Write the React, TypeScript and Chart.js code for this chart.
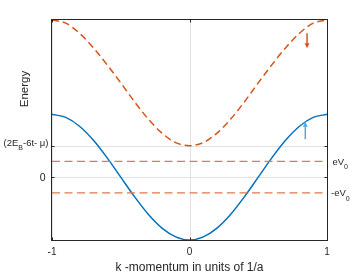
import React, { useEffect, useRef } from "react";
import { Chart, registerables } from "chart.js";

Chart.register(...registerables);

// momentum k (units of 1/a)
const kValues = [-1, -0.9, -0.8, -0.7, -0.6, -0.5, -0.4, -0.3, -0.2, -0.1, 0, 0.1, 0.2, 0.3, 0.4, 0.5, 0.6, 0.7, 0.8, 0.9, 1];
// lower band (solid blue)
const lowerBand = [2.0, 1.9, 1.62, 1.18, 0.62, 0.0, -0.62, -1.18, -1.62, -1.9, -2.0, -1.9, -1.62, -1.18, -0.62, 0.0, 0.62, 1.18, 1.62, 1.9, 2.0];
// upper band (dashed orange)
const upperBand = [5.0, 4.9, 4.58, 4.12, 3.58, 3.0, 2.4, 1.85, 1.4, 1.1, 1.0, 1.1, 1.4, 1.85, 2.4, 3.0, 3.58, 4.12, 4.58, 4.9, 5.0];
// potential levels +eV0 / -eV0
const potentialLevels = [0.5, -0.5];
const potentialLabels = ["eV", "-eV"];

const xTicks = [-1, 0, 1];
const xTickLabels = ["-1", "0", "1"];
const yTicks = [1, 0];

// arrows: k position, start value, end value
const arrowK = [0.842, 0.855];
const arrowFrom = [1.21, 4.58];
const arrowTo = [1.76, 4.1];
const arrowColors = ["#5AA8E0", "#D95319"];

const BLUE = "#0072BD";
const ORANGE = "#D95319";
const FONT = "'Liberation Sans', Arial, Helvetica, sans-serif";

type Part = { t: string; sub?: boolean };

function richWidth(ctx: CanvasRenderingContext2D, parts: Part[], size: number, subSize: number) {
  let w = 0;
  for (const p of parts) {
    ctx.font = `${p.sub ? subSize : size}px ${FONT}`;
    w += ctx.measureText(p.t).width;
  }
  return w;
}

function drawRich(ctx: CanvasRenderingContext2D, parts: Part[], x: number, y: number, size: number, subSize: number, align: "left" | "right") {
  const w = richWidth(ctx, parts, size, subSize);
  let cx = align === "right" ? x - w : x;
  ctx.textAlign = "left";
  ctx.textBaseline = "middle";
  for (const p of parts) {
    ctx.font = `${p.sub ? subSize : size}px ${FONT}`;
    ctx.fillText(p.t, cx, p.sub ? y + 5 : y);
    cx += ctx.measureText(p.t).width;
  }
}

const decorPlugin = {
  id: "decor",
  beforeDatasetsDraw(chart: any) {
    const { ctx, chartArea: a, scales } = chart;
    const xs = scales.x;
    const ys = scales.y;
    ctx.save();
    ctx.strokeStyle = "#E2E2E2";
    ctx.lineWidth = 1;
    for (const v of yTicks) {
      const py = Math.round(ys.getPixelForValue(v)) + 0.5;
      ctx.beginPath();
      ctx.moveTo(a.left, py);
      ctx.lineTo(a.right, py);
      ctx.stroke();
    }
    for (const v of xTicks) {
      const px = Math.round(xs.getPixelForValue(v)) + 0.5;
      ctx.beginPath();
      ctx.moveTo(px, a.top);
      ctx.lineTo(px, a.bottom);
      ctx.stroke();
    }
    ctx.restore();
  },
  afterDatasetsDraw(chart: any) {
    const { ctx, chartArea: a, scales } = chart;
    const xs = scales.x;
    const ys = scales.y;
    ctx.save();
    // arrows
    for (let i = 0; i < arrowK.length; i++) {
      const px = xs.getPixelForValue(arrowK[i]);
      const p0 = ys.getPixelForValue(arrowFrom[i]);
      const p1 = ys.getPixelForValue(arrowTo[i]);
      const dir = p1 < p0 ? -1 : 1;
      ctx.strokeStyle = arrowColors[i];
      ctx.fillStyle = arrowColors[i];
      ctx.lineWidth = 1.5;
      ctx.beginPath();
      ctx.moveTo(px, p0);
      ctx.lineTo(px, p1 - dir * 3);
      ctx.stroke();
      ctx.beginPath();
      ctx.moveTo(px, p1);
      ctx.lineTo(px - 2.5, p1 - dir * 5);
      ctx.lineTo(px + 2.5, p1 - dir * 5);
      ctx.closePath();
      ctx.fill();
    }
    // box
    const L = Math.round(a.left) - 0.5;
    const R = Math.round(a.right) + 0.5;
    const T = Math.round(a.top) - 0.5;
    const B = Math.round(a.bottom) + 0.5;
    ctx.strokeStyle = "#262626";
    ctx.lineWidth = 1;
    ctx.strokeRect(L, T, R - L, B - T);
    // tick marks
    ctx.beginPath();
    for (const v of yTicks) {
      const py = Math.round(ys.getPixelForValue(v)) + 0.5;
      ctx.moveTo(L, py);
      ctx.lineTo(L + 3, py);
      ctx.moveTo(R, py);
      ctx.lineTo(R - 3, py);
    }
    for (const v of xTicks) {
      const px = Math.round(xs.getPixelForValue(v)) + 0.5;
      ctx.moveTo(px, B);
      ctx.lineTo(px, B - 3);
      ctx.moveTo(px, T);
      ctx.lineTo(px, T + 3);
    }
    ctx.stroke();
    // texts
    ctx.fillStyle = "#262626";
    ctx.font = `10px ${FONT}`;
    ctx.textAlign = "center";
    ctx.textBaseline = "top";
    xTicks.forEach((v, i) => {
      ctx.fillText(xTickLabels[i], xs.getPixelForValue(v), B + 7);
    });
    ctx.font = `12px ${FONT}`;
    ctx.fillText("k -momentum in units of 1/a", (a.left + a.right) / 2, B + 21);
    // y tick labels
    ctx.textAlign = "right";
    ctx.textBaseline = "middle";
    ctx.font = `10.5px ${FONT}`;
    ctx.fillText("0", L - 6, ys.getPixelForValue(0) + 0.5);
    drawRich(ctx, [{ t: "(2E" }, { t: "B", sub: true }, { t: "-6t- \u03BC)" }], L - 3, ys.getPixelForValue(1) - 2.5, 9.5, 7, "right");
    // right labels
    potentialLevels.forEach((v, i) => {
      drawRich(ctx, [{ t: potentialLabels[i] }, { t: "0", sub: true }], R + (i === 0 ? 5 : 3.5), ys.getPixelForValue(v) + 1, 9.5, 7, "left");
    });
    // y title
    ctx.save();
    ctx.translate(25, 89);
    ctx.rotate(-Math.PI / 2);
    ctx.font = `11.5px ${FONT}`;
    ctx.textAlign = "center";
    ctx.textBaseline = "middle";
    ctx.fillText("Energy", 0, 0);
    ctx.restore();
    ctx.restore();
  },
};

export default function App() {
  const ref = useRef<HTMLCanvasElement | null>(null);
  useEffect(() => {
    if (!ref.current) return;
    const lowerData = kValues.map((k, i) => ({ x: k, y: lowerBand[i] }));
    const upperData = kValues.map((k, i) => ({ x: k, y: upperBand[i] }));
    const levelSets = potentialLevels.map((v) => ({
      data: [{ x: xTicks[0], y: v }, { x: xTicks[xTicks.length - 1], y: v }],
      borderColor: "#E2784C",
      borderWidth: 1.2,
      borderDash: [8, 4.5],
      pointRadius: 0,
      fill: false,
    }));
    const chart = new Chart(ref.current, {
      type: "line",
      data: {
        datasets: [
          ...levelSets,
          {
            data: upperData,
            borderColor: ORANGE,
            borderWidth: 1.5,
            borderDash: [7, 4],
            pointRadius: 0,
            cubicInterpolationMode: "monotone",
            fill: false,
          },
          {
            data: lowerData,
            borderColor: BLUE,
            borderWidth: 1.5,
            pointRadius: 0,
            cubicInterpolationMode: "monotone",
            fill: false,
          },
        ] as any,
      },
      options: {
        animation: false,
        responsive: false,
        devicePixelRatio: 1,
        layout: { padding: { left: 52, right: 27, top: 20, bottom: 33 } },
        scales: {
          x: { type: "linear", min: -1, max: 1, display: false },
          y: { type: "linear", min: -2, max: 5, display: false },
        },
        plugins: { legend: { display: false }, tooltip: { enabled: false } },
        events: [],
      },
      plugins: [decorPlugin],
    });
    return () => chart.destroy();
  }, []);
  return (
    <div style={{ position: "fixed", left: 0, top: 0, width: 354, height: 273, background: "#fff" }}>
      <canvas ref={ref} width={354} height={273} style={{ display: "block" }} />
    </div>
  );
}
